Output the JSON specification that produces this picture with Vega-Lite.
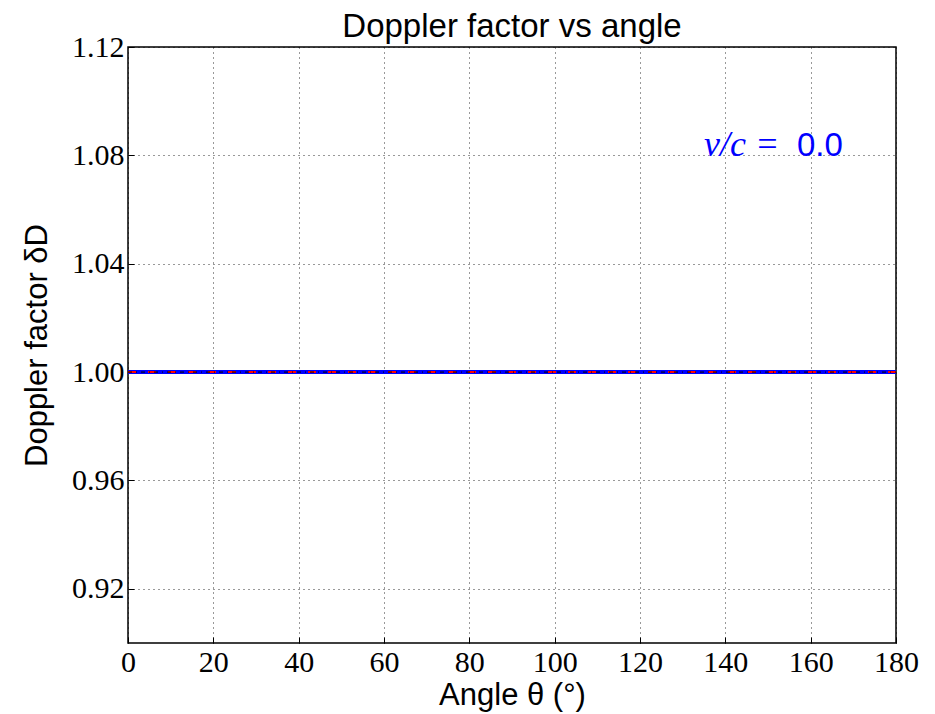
{
  "$schema": "https://vega.github.io/schema/vega-lite/v6.json",
  "width": 768,
  "height": 596,
  "autosize": {"type": "none"},
  "padding": {"left": 128, "top": 47, "right": 39, "bottom": 71},
  "background": "white",
  "config": {
    "view": {"stroke": "black", "strokeWidth": 1.5},
    "axis": {
      "labelFont": "Liberation Serif",
      "labelFontSize": 30,
      "labelColor": "black",
      "labelFlush": false,
      "titleFont": "Liberation Sans",
      "titleFontSize": 31,
      "titleFontWeight": "normal",
      "titleColor": "black",
      "grid": true,
      "gridColor": "black",
      "gridDash": [1, 4],
      "gridOpacity": 0.8,
      "domain": false,
      "tickColor": "black",
      "tickSize": -6,
      "labelPadding": 10
    }
  },
  "title": {"text": "Doppler factor vs angle", "font": "Liberation Sans", "fontSize": 33, "fontWeight": "normal", "color": "black", "offset": -12},
  "data": {"values": [
    {"angle": 0, "delta": 1.0},
    {"angle": 180, "delta": 1.0}
  ]},
  "encoding": {
    "x": {"field": "angle", "type": "quantitative", "scale": {"domain": [0, 180], "nice": false, "zero": false},
      "axis": {"values": [0,20,40,60,80,100,120,140,160,180], "title": "Angle θ (°)", "titlePadding": 3}},
    "y": {"field": "delta", "type": "quantitative", "scale": {"domain": [0.9, 1.12], "nice": false, "zero": false},
      "axis": {"values": [0.92, 0.96, 1.0, 1.04, 1.08, 1.12], "format": ".2f", "title": "Doppler factor δD", "titlePadding": 18}}
  },
  "layer": [
    {"mark": {"type": "line", "color": "#0000ff", "strokeWidth": 4}},
    {"mark": {"type": "line", "color": "#ff0000", "strokeWidth": 2, "strokeDash": [8, 12]}},
    {"mark": {"type": "line", "color": "black", "strokeWidth": 1, "strokeDash": [4, 4, 1, 4]}},
    {
      "data": {"values": [
        {"angle": 135, "delta": 1.08, "label": "v/c  =", "part": "math"}
      ]},
      "mark": {"type": "text", "align": "left", "baseline": "alphabetic", "fontSize": 36, "font": "Liberation Serif", "fontStyle": "italic", "color": "#0000ff", "dy": 1},
      "encoding": {"text": {"field": "label"}}
    },
    {
      "data": {"values": [
        {"angle": 156.8, "delta": 1.08, "label": "0.0", "part": "num"}
      ]},
      "mark": {"type": "text", "align": "left", "baseline": "alphabetic", "fontSize": 33, "font": "Liberation Sans", "color": "#0000ff", "dy": 1},
      "encoding": {"text": {"field": "label"}}
    }
  ]
}
